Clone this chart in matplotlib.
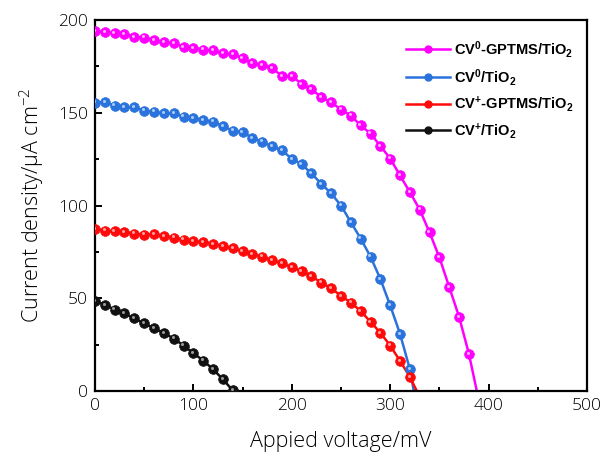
import matplotlib
matplotlib.use("Agg")
import matplotlib.pyplot as plt
import matplotlib.transforms as mtransforms
import numpy as np

plt.rcParams['mathtext.default'] = 'regular'

# ---- data ----
v_mag = [0, 10, 20, 30, 40, 50, 60, 70, 80, 90, 100, 110, 120, 130, 140, 150, 160,
         170, 180, 190, 200, 210, 220, 230, 240, 250, 260, 270, 280, 290, 300,
         310, 320, 330, 340, 350, 360, 370, 380]
j_mag = [194, 193.5, 193, 192.4, 191, 190.5, 189, 188, 187.7, 185.5, 185, 184, 183.6, 182, 181.6, 179.5, 176.6,
         175.8, 174.2, 169.7, 169.7, 165.6, 162.7, 158.4, 155.7, 151.7, 148.5, 143.2, 138.8, 132.1, 125.3,
         116.2, 107.2, 97.8, 85.5, 72, 56, 40, 20]
voc_mag = 388

v_blue = [0, 10, 20, 30, 40, 50, 60, 70, 80, 90, 100, 110, 120, 130, 140, 150, 160,
          170, 180, 190, 200, 210, 220, 230, 240, 250, 260, 270, 280, 290, 300, 310, 320]
j_blue = [155.5, 155.8, 153.9, 153.1, 153.0, 151.2, 150.6, 149.7, 149.7, 147.9, 147.2, 145.9, 145.2, 142.7, 140.4, 139.6, 136.4,
          134.4, 131.9, 129.7, 125.2, 122.2, 117.3, 111.7, 106.5, 100, 91, 82.2, 72.4, 60.4, 46.1, 30.8, 11.7]
voc_blue = 324

v_red = [0, 10, 20, 30, 40, 50, 60, 70, 80, 90, 100, 110, 120, 130, 140, 150, 160,
         170, 180, 190, 200, 210, 220, 230, 240, 250, 260, 270, 280, 290, 300, 310, 320]
j_red = [87.4, 86.5, 86.1, 85.6, 84.9, 84.3, 84.5, 83.4, 82.7, 81.6, 80.9, 80.2, 79.3, 78.0, 76.9, 75.5, 73.7,
         72.4, 70.4, 68.9, 66.6, 64.6, 61.9, 58.4, 55.4, 51.3, 47.7, 43.1, 37.3, 31.4, 24.5, 16.2, 7.6]
voc_red = 327

v_blk = [0, 10, 20, 30, 40, 50, 60, 70, 80, 90, 100, 110, 120, 130, 140]
j_blk = [48.5, 46.5, 43.9, 41.8, 39.1, 36.4, 33.9, 31.2, 28.3, 24.5, 20.4, 16.4, 11.7, 6.3, 0.3]
voc_blk = 140

labels = [r'CV$^0$-GPTMS/TiO$_2$', r'CV$^0$/TiO$_2$', r'CV$^{+}$-GPTMS/TiO$_2$', r'CV$^{+}$/TiO$_2$']
colors = ['#FF00FF', '#2A72DC', '#FF0A0A', '#111111']
hl_colors = ['#FFB0FF', '#A8CCF5', '#FFA0A0', '#9A9A9A']

fig = plt.figure(figsize=(6.03, 4.58), dpi=100)
ax = fig.add_axes([0.1575, 0.1463, 0.816, 0.810])

series = [(v_mag, j_mag, voc_mag), (v_blue, j_blue, voc_blue),
          (v_red, j_red, voc_red), (v_blk, j_blk, voc_blk)]

hl_off = mtransforms.ScaledTranslation(-1.2 / 100, 1.2 / 100, fig.dpi_scale_trans)
for (v, j, voc), c, hc, lab in zip(series, colors, hl_colors, labels):
    lv = list(v) + ([voc] if voc > v[-1] else [])
    lj = list(j) + ([0] if voc > v[-1] else [])
    ax.plot(lv, lj, '-', color=c, lw=1.8, zorder=2)
    ax.plot(v, j, 'o', color=c, ms=7, mec=c, mew=0.5, zorder=3)
    ax.plot(v, j, 'o', color=hc, ms=2.2, mew=0, zorder=4,
            transform=ax.transData + hl_off)
    ax.plot([], [], '-', color=c, lw=1.8, marker='o', ms=5, mec=c, mfc=c, label=lab)

ax.set_xlim(0, 500)
ax.set_ylim(0, 200)
ax.set_xticks([0, 100, 200, 300, 400, 500])
ax.set_xticks([50, 150, 250, 350, 450], minor=True)
ax.set_yticks([0, 50, 100, 150, 200])
ax.set_yticks([25, 75, 125, 175], minor=True)
for s in ax.spines.values():
    s.set_linewidth(1.6)
ax.tick_params(which='both', direction='in', width=1.4, labelsize=12.5, pad=5,
               labelcolor='#000000')
ax.tick_params(which='major', length=5)
ax.tick_params(which='minor', length=3)
for t in ax.get_xticklabels() + ax.get_yticklabels():
    t.set_fontfamily('Open Sans')
    t.set_fontweight('light')

ax.set_xlabel('Appied voltage/mV', fontsize=15.5, family='Open Sans', fontweight='light',
              labelpad=12, color='#000000')
ax.set_ylabel(r'Current density/μA cm$^{-2}$', fontsize=15.5, family='Open Sans', fontweight='light',
              labelpad=9, color='#000000')

leg = ax.legend(loc='upper right', frameon=False,
                prop={'family': ['Liberation Sans Narrow', 'Liberation Sans'], 'weight': 'bold', 'size': 10.5},
                handlelength=3.0, handletextpad=0.3, labelspacing=0.47,
                bbox_to_anchor=(1.0, 0.985))

fig.savefig('out.png', dpi=100)
